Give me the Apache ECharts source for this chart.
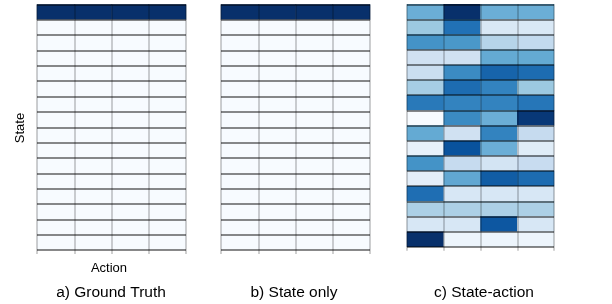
<!DOCTYPE html>
<html><head><meta charset="utf-8">
<script src="https://cdn.jsdelivr.net/npm/echarts@6/dist/echarts.min.js"></script>
<style>html,body{margin:0;padding:0;background:#fff}#c{width:612px;height:304px}</style>
</head><body><div id="c"></div>
<script>
const actions = ["A1", "A2", "A3", "A4"];
const states = ["S1","S2","S3","S4","S5","S6","S7","S8","S9","S10","S11","S12","S13","S14","S15","S16"];
const groundTruth = [
  [1,1,1,1],[0,0,0,0],[0,0,0,0],[0,0,0,0],[0,0,0,0],[0,0,0,0],[0,0,0,0],[0,0,0,0],
  [0,0,0,0],[0,0,0,0],[0,0,0,0],[0,0,0,0],[0,0,0,0],[0,0,0,0],[0,0,0,0],[0,0,0,0]
];
const stateOnly = [
  [1,1,1,1],[0,0,0,0],[0,0,0,0],[0,0,0,0],[0,0,0,0],[0,0,0,0],[0,0,0,0],[0,0,0,0],
  [0,0,0,0],[0,0,0,0],[0,0,0,0],[0,0,0,0],[0,0,0,0],[0,0,0,0],[0,0,0,0],[0,0,0,0]
];
const stateAction = [
  [0.50, 1.00, 0.50, 0.50],
  [0.38, 0.75, 0.15, 0.15],
  [0.62, 0.60, 0.30, 0.26],
  [0.20, 0.20, 0.52, 0.52],
  [0.23, 0.65, 0.80, 0.77],
  [0.35, 0.77, 0.68, 0.38],
  [0.72, 0.68, 0.68, 0.73],
  [0.00, 0.65, 0.50, 0.97],
  [0.52, 0.20, 0.68, 0.25],
  [0.08, 0.87, 0.50, 0.12],
  [0.62, 0.25, 0.18, 0.24],
  [0.10, 0.53, 0.83, 0.77],
  [0.76, 0.16, 0.16, 0.16],
  [0.33, 0.33, 0.33, 0.33],
  [0.16, 0.16, 0.85, 0.16],
  [1.00, 0.05, 0.05, 0.05]
];
const panelTitles = ["a) Ground Truth", "b) State only", "c) State-action"];
const xName = "Action";
const yName = "State";

const blues = ["#f7fbff","#deebf7","#c6dbef","#9ecae1","#6baed6","#4292c6","#2171b5","#08519c","#08306b"];
function toCells(m){ const out=[]; m.forEach((row,r)=>row.forEach((v,c)=>out.push([c,r,v]))); return out; }

const grids = [
  {left:37, top:4.5, width:149, height:245.5},
  {left:221, top:4.5, width:149, height:245.5},
  {left:407, top:4.3, width:147, height:242.5}
];
const datasets = [groundTruth, stateOnly, stateAction];

const xAxes = grids.map((g,i)=>({
  type:'category', data:actions, gridIndex:i, z:5,
  axisLine:{show:false}, axisLabel:{show:false, interval:0},
  axisTick:{show:true, interval:0, length:4, lineStyle:{color:'rgba(0,0,0,0.25)', width:1.5}},
  splitLine:{show:true, interval:0, lineStyle:{color:'rgba(0,0,0,0.25)', width:1.5}}
}));
const yAxes = grids.map((g,i)=>({
  type:'category', data:states, gridIndex:i, inverse:true, z:5,
  axisLine:{show:false}, axisLabel:{show:false, interval:0}, axisTick:{show:false, interval:0},
  splitLine:{show:true, interval:0, lineStyle:{color:'rgba(0,0,0,0.62)', width:1.5}}
}));
const series = datasets.map((d,i)=>({
  type:'heatmap', xAxisIndex:i, yAxisIndex:i, data:toCells(d), z:2,
  itemStyle:{borderWidth:0}, emphasis:{disabled:true}
}));

const chart = echarts.init(document.getElementById('c'), null, {renderer:'canvas'});
chart.setOption({
  animation:false,
  grid:grids,
  xAxis:xAxes, yAxis:yAxes,
  visualMap:{show:false, type:'continuous', min:0, max:1, seriesIndex:[0,1,2], inRange:{color:blues}},
  series:series,
  graphic:[
    {type:'text', x:20.5, y:128, rotation:Math.PI/2, style:{text:yName, font:'13px "Liberation Sans", Arial, sans-serif', fill:'#000', textAlign:'center', textVerticalAlign:'middle'}},
    {type:'text', x:109, y:268, style:{text:xName, font:'13px "Liberation Sans", Arial, sans-serif', fill:'#000', textAlign:'center', textVerticalAlign:'middle'}},
    {type:'text', x:111, y:293, style:{text:panelTitles[0], font:'15.5px "Liberation Sans", Arial, sans-serif', fill:'#000', textAlign:'center', textVerticalAlign:'middle'}},
    {type:'text', x:294, y:293, style:{text:panelTitles[1], font:'15.5px "Liberation Sans", Arial, sans-serif', fill:'#000', textAlign:'center', textVerticalAlign:'middle'}},
    {type:'text', x:484, y:293, style:{text:panelTitles[2], font:'15.5px "Liberation Sans", Arial, sans-serif', fill:'#000', textAlign:'center', textVerticalAlign:'middle'}}
  ]
});
</script></body></html>
